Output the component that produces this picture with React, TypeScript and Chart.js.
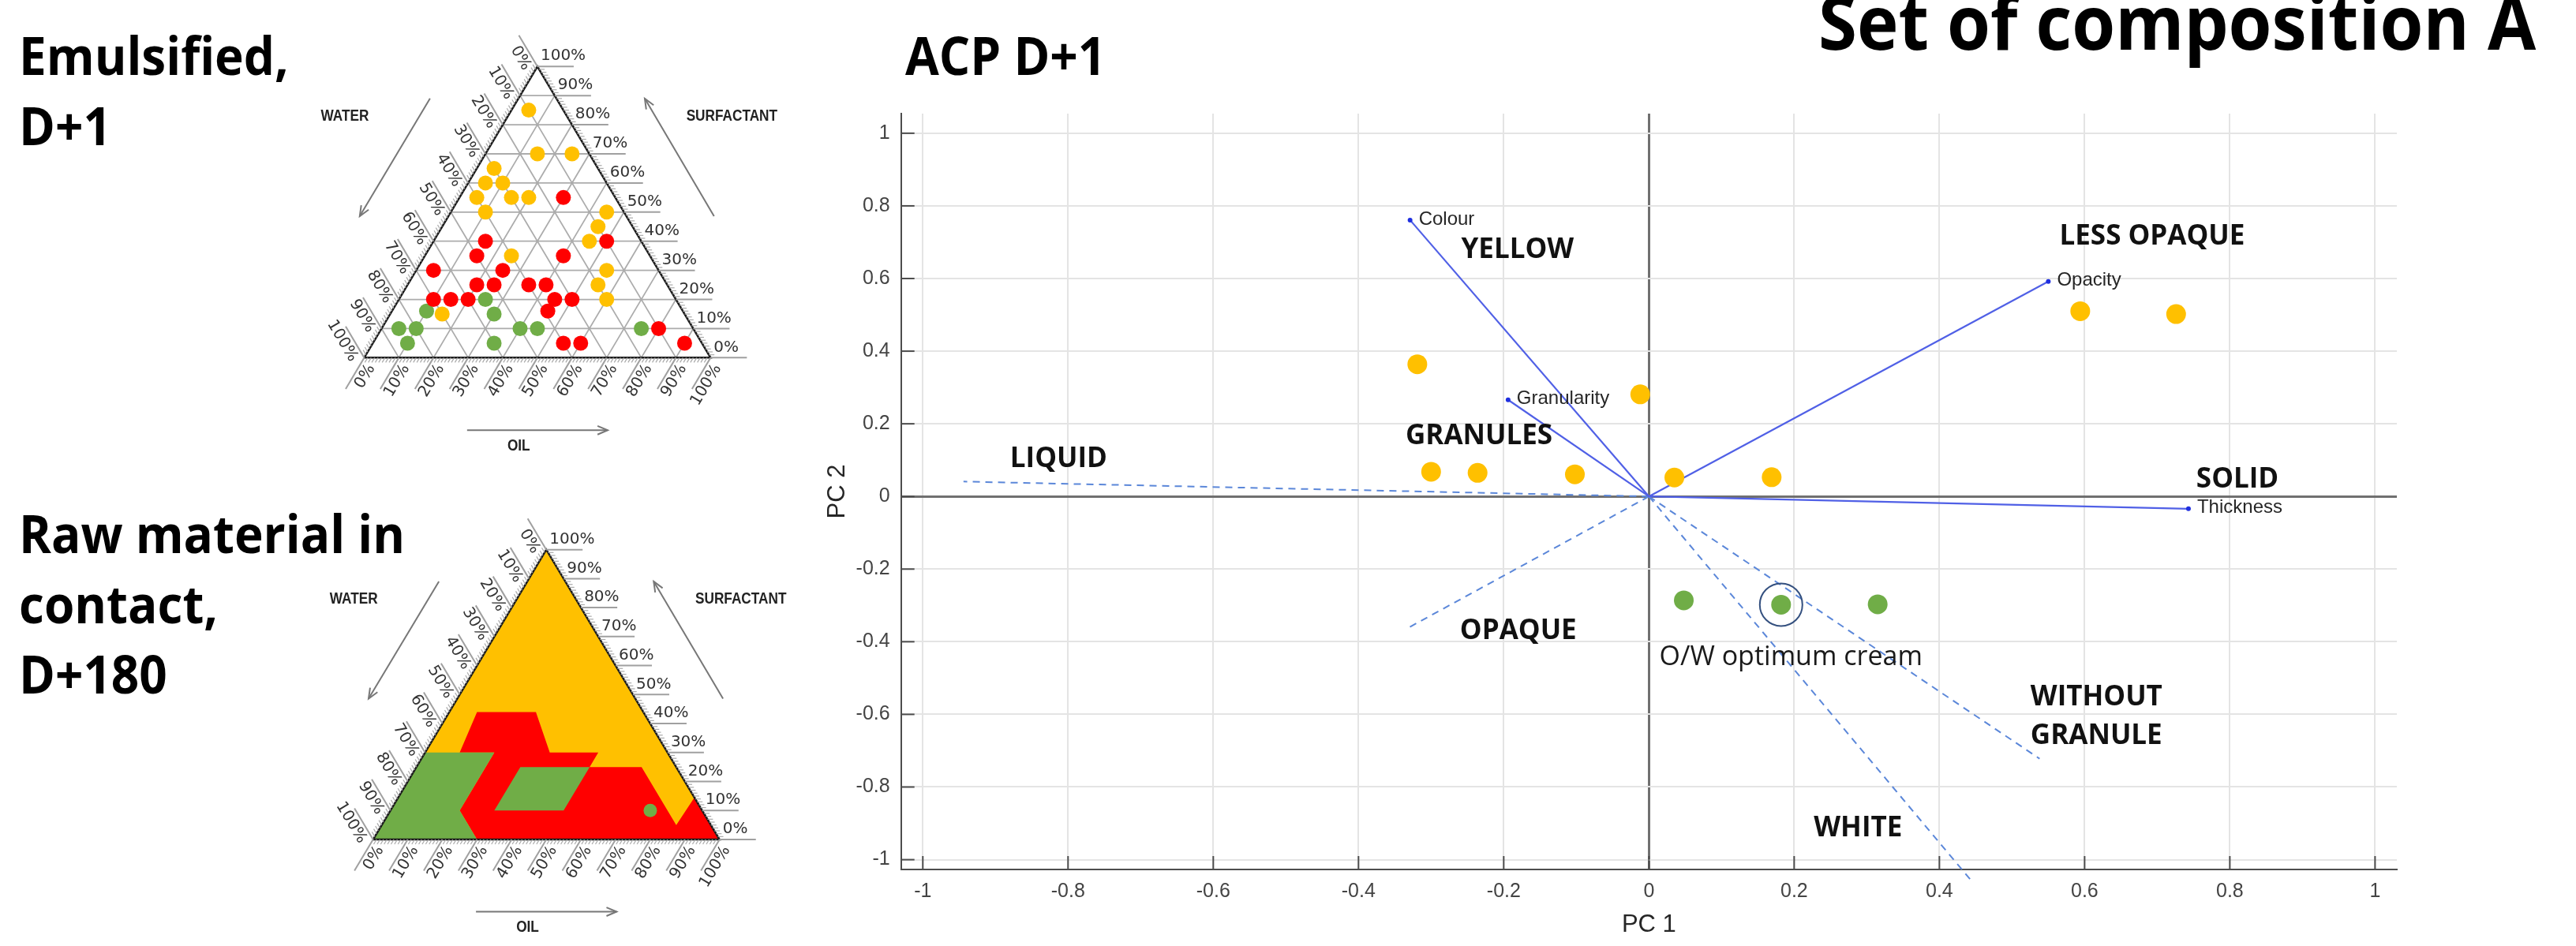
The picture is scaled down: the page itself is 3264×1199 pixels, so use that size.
import React, { useEffect, useRef } from 'react';
import { Chart, registerables } from 'chart.js';

Chart.register(...registerables);

// ================= DATA =================
// Ternary "Emulsified, D+1": each point = [oil %, surfactant %] (water = remainder)
const emulsifiedYellow = [[5, 85], [15, 70], [25, 70], [5, 65], [5, 60], [10, 60], [5, 55], [15, 55], [20, 55], [10, 50], [45, 50], [45, 45], [45, 40], [25, 35], [55, 30], [55, 25], [60, 20], [15, 15]];
const emulsifiedRed = [[30, 55], [15, 40], [50, 40], [15, 35], [40, 35], [5, 30], [25, 30], [20, 25], [25, 25], [35, 25], [40, 25], [10, 20], [15, 20], [20, 20], [45, 20], [50, 20], [45, 16], [80, 10], [55, 5], [60, 5], [90, 5]];
const emulsifiedGreen = [[25, 20], [10, 16], [30, 15], [5, 10], [10, 10], [40, 10], [45, 10], [75, 10], [10, 5], [35, 5]];

// Ternary "Raw material in contact, D+180": zones as [oil %, surfactant %] vertices
const rawYellowZone = [[0, 0], [100, 0], [0, 100]];
const rawRedZone = [[8, 44], [25, 44], [36, 30], [50, 30], [50, 25], [65, 25], [85, 5], [85.5, 14.5], [100, 0], [30, 0], [20, 10], [20, 30], [10, 30]];
const rawGreenZoneLeft = [[0, 0], [0, 30], [20, 30], [20, 10], [30, 0]];
const rawGreenZoneInner = [[30, 25], [50, 25], [50, 10], [30, 10]];
const rawGreenDot = [[75, 10]];

const ternaryTickPercents = [0, 10, 20, 30, 40, 50, 60, 70, 80, 90, 100];
const ternaryGridPercents = [10, 20, 30, 40, 50, 60, 70, 80, 90];

// PCA "ACP D+1"
const yellowPC1 = [-0.319, -0.012, -0.300, -0.236, -0.102, 0.035, 0.169, 0.594, 0.726];
const yellowPC2 = [0.364, 0.281, 0.068, 0.065, 0.061, 0.052, 0.053, 0.510, 0.502];
const greenPC1 = [0.048, 0.182, 0.315];
const greenPC2 = [-0.286, -0.298, -0.297];
const optimumIndex = 1;

const loadingNames = ['Colour', 'Granularity', 'Opacity', 'Thickness'];
const loadingPC1 = [-0.329, -0.194, 0.550, 0.743];
const loadingPC2 = [0.761, 0.266, 0.592, -0.034];

const directionNames = ['LIQUID', 'OPAQUE', 'WITHOUT GRANULE', 'WHITE'];
const directionPC1 = [-0.944, -0.330, 0.538, 0.444];
const directionPC2 = [0.041, -0.360, -0.722, -1.058];

const pcaTickValues = [-1, -0.8, -0.6, -0.4, -0.2, 0, 0.2, 0.4, 0.6, 0.8, 1];

// annotation texts with anchor in PC units
const annotationTexts = ['YELLOW', 'GRANULES', 'LIQUID', 'LESS OPAQUE', 'SOLID', 'OPAQUE', 'O/W optimum cream', 'WITHOUT', 'GRANULE', 'WHITE'];
const annotationPC1 = [-0.181, -0.234, -0.813, 0.693, 0.8105, -0.180, 0.1955, 0.5255, 0.5255, 0.288];
const annotationPC2 = [0.683, 0.170, 0.107, 0.720, 0.052, -0.365, -0.439, -0.549, -0.654, -0.909];

// ================= STYLES =================
const YELLOW = '#FFC000';
const RED = '#FF0000';
const GREEN = '#70AD47';
const TITLE_FONT = '"Open Sans", "Liberation Sans", sans-serif';

function drawTitle(ctx: CanvasRenderingContext2D, text: string, x: number, y: number, size: number, sx = 0.94) {
  ctx.save();
  ctx.fillStyle = '#000';
  ctx.font = `bold ${size}px ${TITLE_FONT}`;
  ctx.textAlign = 'left';
  ctx.textBaseline = 'alphabetic';
  ctx.translate(x, y);
  ctx.scale(sx, 1);
  ctx.fillText(text, 0, 0);
  ctx.restore();
}

// ================= TERNARY =================
interface TernaryLayout {
  top: number; width: number; height: number;
  blX: number; blY: number; baseW: number; triH: number;
  title: string[]; titleBaselines: number[];
}

const tp = (p: number[]) => ({ x: (p[0] + p[1] / 2) / 100, y: p[1] / 100 });
const closedPoly = (poly: number[][]) => [...poly, poly[0]].map(tp);

function gridPoints() {
  const pts: any[] = [];
  for (const v of ternaryGridPercents) {
    const a = tp([0, v]), b = tp([100 - v, v]);
    const c = tp([v, 0]), d = tp([v, 100 - v]);
    const e = tp([100 - v, 0]), f = tp([0, 100 - v]);
    pts.push(a, b, { x: b.x, y: null }, c, d, { x: d.x, y: null }, e, f, { x: f.x, y: null });
  }
  return pts;
}

function dots(list: number[][], color: string, r: number) {
  return {
    data: list.map(tp), showLine: false, pointRadius: r, pointHoverRadius: r,
    pointBackgroundColor: color, pointBorderWidth: 0, backgroundColor: color, borderColor: color, order: 1,
  };
}

function zone(list: number[][], color: string, order: number) {
  return {
    data: closedPoly(list), fill: 'shape', backgroundColor: color, borderColor: 'rgba(0,0,0,0)',
    borderWidth: 0, pointRadius: 0, tension: 0, order,
  };
}

function outline() {
  return {
    data: closedPoly([[0, 0], [100, 0], [0, 100]]), borderColor: '#1a1a1a', borderWidth: 2.5,
    pointRadius: 0, fill: false, tension: 0, order: 5,
  };
}

// decorations in triangle units (x: 0 = water vertex, 1 = oil vertex; y: 0 = base, 1 = apex)
const arrowUnits = [
  [[0.19, 0.89], [-0.013, 0.486]],
  [[1.01, 0.486], [0.81, 0.89]],
  [[0.297, -0.249], [0.703, -0.249]],
];
const axisLabelUnits = [
  { text: 'WATER', x: -0.056, y: 0.829, align: 'center' },
  { text: 'SURFACTANT', x: 0.93, y: 0.829, align: 'left' },
  { text: 'OIL', x: 0.446, y: -0.303, align: 'center' },
];

function ternaryDecor(L: TernaryLayout) {
  return {
    id: 'ternaryDecor',
    afterDatasetsDraw(chart: any) {
      const ctx: CanvasRenderingContext2D = chart.ctx;
      const xs = chart.scales.x, ys = chart.scales.y;
      const px = (x: number, y: number) => [xs.getPixelForValue(x), ys.getPixelForValue(y)];
      const BL = px(0, 0), BR = px(1, 0), TOP = px(0.5, 1);
      const norm = (v: number[]) => { const l = Math.hypot(v[0], v[1]); return [v[0] / l, v[1] / l]; };
      const sides = [
        { d: [1, 0], pos: (v: number) => px(1 - v / 2, v), flip: false },
        { d: norm([BL[0] - TOP[0], BL[1] - TOP[1]]), pos: (v: number) => px(v, 0), flip: true },
        { d: norm([TOP[0] - BR[0], TOP[1] - BR[1]]), pos: (v: number) => px((1 - v) / 2, 1 - v), flip: true },
      ];
      ctx.save();
      for (const side of sides) {
        const d = side.d;
        const n = [d[1], -d[0]];
        for (let k = 0; k <= 100; k++) {
          const P = side.pos(k / 100);
          const major = k % 10 === 0;
          const len = major ? 46 : 7;
          ctx.strokeStyle = major ? '#a0a0a0' : '#aaaaaa';
          ctx.lineWidth = major ? 2 : 1.2;
          ctx.beginPath();
          ctx.moveTo(P[0], P[1]);
          ctx.lineTo(P[0] + len * d[0], P[1] + len * d[1]);
          ctx.stroke();
        }
        ctx.fillStyle = '#333';
        ctx.font = '20px "DejaVu Sans", sans-serif';
        for (const t of ternaryTickPercents) {
          const P = side.pos(t / 100);
          const ax = P[0] + 4 * d[0] + 13 * n[0];
          const ay = P[1] + 4 * d[1] + 13 * n[1];
          ctx.save();
          ctx.translate(ax, ay);
          ctx.rotate(side.flip ? Math.atan2(d[1], d[0]) + Math.PI : 0);
          ctx.textAlign = side.flip ? 'right' : 'left';
          ctx.textBaseline = 'middle';
          ctx.fillText(`${t}%`, 0, 0);
          ctx.restore();
        }
      }
      // arrows
      ctx.strokeStyle = '#777';
      ctx.lineWidth = 2;
      for (const [s, e] of arrowUnits) {
        const A = px(s[0], s[1]), B = px(e[0], e[1]);
        const ang = Math.atan2(B[1] - A[1], B[0] - A[0]);
        ctx.beginPath();
        ctx.moveTo(A[0], A[1]);
        ctx.lineTo(B[0], B[1]);
        ctx.stroke();
        ctx.beginPath();
        ctx.moveTo(B[0] - 14 * Math.cos(ang - 0.4), B[1] - 14 * Math.sin(ang - 0.4));
        ctx.lineTo(B[0], B[1]);
        ctx.lineTo(B[0] - 14 * Math.cos(ang + 0.4), B[1] - 14 * Math.sin(ang + 0.4));
        ctx.stroke();
      }
      ctx.fillStyle = '#222';
      ctx.font = 'bold 21px "Liberation Sans", Arial, sans-serif';
      ctx.textBaseline = 'middle';
      for (const lab of axisLabelUnits) {
        const P = px(lab.x, lab.y);
        ctx.save();
        ctx.translate(P[0], P[1]);
        ctx.scale(0.82, 1);
        ctx.textAlign = lab.align as CanvasTextAlign;
        ctx.fillText(lab.text, 0, 0);
        ctx.restore();
      }
      ctx.restore();
      L.title.forEach((line, i) => drawTitle(ctx, line, 24, L.titleBaselines[i], 66));
    },
  };
}

function ternaryConfig(L: TernaryLayout, datasets: any[]) {
  return {
    type: 'line',
    data: { datasets },
    options: {
      animation: false, responsive: false, maintainAspectRatio: false, events: [],
      layout: { padding: 0 },
      plugins: { legend: { display: false }, tooltip: { enabled: false } },
      scales: {
        x: { type: 'linear', display: false, bounds: 'data', min: -L.blX / L.baseW, max: (L.width - L.blX) / L.baseW },
        y: { type: 'linear', display: false, bounds: 'data', min: (L.blY - L.height) / L.triH, max: L.blY / L.triH },
      },
    },
    plugins: [ternaryDecor(L)],
  };
}

const emulsifiedLayout: TernaryLayout = {
  top: 0, width: 1030, height: 620, blX: 460.5, blY: 457.9, baseW: 447.1, triH: 380.8,
  title: ['Emulsified,', 'D+1'], titleBaselines: [95, 184],
};
const rawLayout: TernaryLayout = {
  top: 620, width: 1030, height: 579, blX: 472, blY: 448.7, baseW: 446.4, triH: 378.5,
  title: ['Raw material in', 'contact,', 'D+180'], titleBaselines: [81, 170, 259],
};

function emulsifiedDatasets() {
  return [
    { data: gridPoints(), borderColor: '#acacac', borderWidth: 1.8, pointRadius: 0, spanGaps: false, fill: false, order: 8 },
    outline(),
    dots(emulsifiedYellow, YELLOW, 9.5),
    dots(emulsifiedRed, RED, 9.5),
    dots(emulsifiedGreen, GREEN, 9.5),
  ];
}

function rawDatasets() {
  return [
    zone(rawYellowZone, YELLOW, 12),
    zone(rawRedZone, RED, 11),
    zone(rawGreenZoneLeft, GREEN, 10),
    zone(rawGreenZoneInner, GREEN, 10),
    outline(),
    dots(rawGreenDot, GREEN, 8.5),
  ];
}

// ================= PCA =================
const pcaDecor = {
  id: 'pcaDecor',
  beforeDatasetsDraw(chart: any) {
    const { ctx, chartArea, scales: { x, y } } = chart;
    ctx.save();
    ctx.strokeStyle = '#4d4d4d';
    ctx.lineWidth = 2;
    for (const v of pcaTickValues) {
      const px = x.getPixelForValue(v);
      ctx.beginPath(); ctx.moveTo(px, chartArea.bottom); ctx.lineTo(px, chartArea.bottom - 17); ctx.stroke();
      const py = y.getPixelForValue(v);
      ctx.beginPath(); ctx.moveTo(chartArea.left, py); ctx.lineTo(chartArea.left + 17, py); ctx.stroke();
    }
    ctx.restore();
  },
  afterDatasetsDraw(chart: any) {
    const { ctx, scales: { x, y } } = chart;
    ctx.save();
    ctx.fillStyle = '#262626';
    ctx.font = '24px "Liberation Sans", Arial, sans-serif';
    ctx.textAlign = 'left';
    ctx.textBaseline = 'middle';
    loadingNames.forEach((name, i) => {
      ctx.fillText(name, x.getPixelForValue(loadingPC1[i]) + 11, y.getPixelForValue(loadingPC2[i]) - 1);
    });
    annotationTexts.forEach((text, i) => {
      const regular = text === 'O/W optimum cream';
      const size = regular ? 34 : 35;
      ctx.font = `${regular ? '' : 'bold '}${size}px ${TITLE_FONT}`;
      ctx.fillStyle = regular ? '#1a1a1a' : '#111';
      ctx.textAlign = (text === 'WITHOUT' || text === 'GRANULE') ? 'left' : 'center';
      ctx.textBaseline = 'alphabetic';
      ctx.fillText(text, x.getPixelForValue(annotationPC1[i]), y.getPixelForValue(annotationPC2[i]) + size * 0.357);
    });
    ctx.restore();
  },
  afterDraw(chart: any) {
    const ctx = chart.ctx;
    drawTitle(ctx, 'ACP D+1', 107, 95, 66);
    drawTitle(ctx, 'Set of composition A', 1264, 63, 95, 0.935);
  },
};

function pcaConfig() {
  const tickFont = { family: '"Liberation Sans", Arial, sans-serif', size: 25 };
  const gridColor = (c: any) => (c.tick && Math.abs(c.tick.value) < 1e-9 ? '#707070' : '#e4e4e4');
  const gridWidth = (c: any) => (c.tick && Math.abs(c.tick.value) < 1e-9 ? 3 : 2);
  const fmt = (v: any) => String(Math.round(Number(v) * 10) / 10);
  const setTicks = (s: any) => { s.ticks = pcaTickValues.map((v) => ({ value: v })); };
  const datasets: any[] = [
    {
      label: 'yellow', data: yellowPC1.map((v, i) => ({ x: v, y: yellowPC2[i] })),
      pointRadius: 12.5, pointBackgroundColor: YELLOW, pointBorderWidth: 0, order: 2,
    },
    {
      label: 'green', data: greenPC1.map((v, i) => ({ x: v, y: greenPC2[i] })),
      pointRadius: 12.5, pointBackgroundColor: GREEN, pointBorderWidth: 0, order: 2,
    },
    {
      label: 'optimum', data: [{ x: greenPC1[optimumIndex], y: greenPC2[optimumIndex] }],
      pointRadius: 27, pointBackgroundColor: 'rgba(0,0,0,0)', pointBorderColor: '#34507f', pointBorderWidth: 2, order: 1,
    },
    ...loadingNames.map((name, i) => ({
      label: name, data: [{ x: 0, y: 0 }, { x: loadingPC1[i], y: loadingPC2[i] }], showLine: true,
      borderColor: '#5060e6', borderWidth: 2.2, pointRadius: [0, 3], pointBackgroundColor: '#1f2fe0',
      pointBorderWidth: 0, order: 3,
    })),
    ...directionNames.map((name, i) => ({
      label: name, data: [{ x: 0, y: 0 }, { x: directionPC1[i], y: directionPC2[i] }], showLine: true,
      borderColor: '#5b87d9', borderWidth: 2, borderDash: [9, 7], pointRadius: 0, clip: false, order: 4,
    })),
  ];
  return {
    type: 'scatter',
    data: { datasets },
    options: {
      animation: false, responsive: false, maintainAspectRatio: false, events: [],
      layout: { padding: { top: 144, right: 227, left: 0, bottom: 0 } },
      plugins: { legend: { display: false }, tooltip: { enabled: false } },
      scales: {
        x: {
          type: 'linear', bounds: 'data', min: -1.03, max: 1.03,
          afterBuildTicks: setTicks,
          afterFit: (s: any) => { s.height = 97; },
          ticks: { callback: fmt, font: tickFont, color: '#444', padding: 13, maxRotation: 0, autoSkip: false },
          grid: { drawTicks: false, color: gridColor, lineWidth: gridWidth },
          border: { display: true, color: '#4d4d4d', width: 2 },
          title: { display: true, text: 'PC 1', font: { family: '"Liberation Sans", Arial, sans-serif', size: 31 }, color: '#262626', padding: { top: 0, bottom: 8 } },
        },
        y: {
          type: 'linear', bounds: 'data', min: -1.027, max: 1.054,
          afterBuildTicks: setTicks,
          afterFit: (s: any) => { s.width = 101.7; },
          ticks: { callback: fmt, font: tickFont, color: '#444', padding: 14, autoSkip: false },
          grid: { drawTicks: false, color: gridColor, lineWidth: gridWidth },
          border: { display: true, color: '#4d4d4d', width: 2 },
          title: { display: true, text: 'PC 2', font: { family: '"Liberation Sans", Arial, sans-serif', size: 31 }, color: '#262626', padding: { top: 3, bottom: 0 } },
        },
      },
    },
    plugins: [pcaDecor],
  };
}

// ================= COMPONENTS =================
function ChartCanvas(props: { left: number; top: number; width: number; height: number; build: () => any }) {
  const ref = useRef<HTMLCanvasElement>(null);
  useEffect(() => {
    const chart = new Chart(ref.current as HTMLCanvasElement, props.build());
    return () => chart.destroy();
  }, []);
  return (
    <canvas
      ref={ref}
      width={props.width}
      height={props.height}
      style={{ position: 'absolute', left: props.left, top: props.top, width: props.width, height: props.height }}
    />
  );
}

export default function App() {
  return (
    <div style={{ position: 'absolute', left: 0, top: 0, width: 3264, height: 1199, background: '#fff', overflow: 'hidden' }}>
      <ChartCanvas left={0} top={emulsifiedLayout.top} width={emulsifiedLayout.width} height={emulsifiedLayout.height}
        build={() => ternaryConfig(emulsifiedLayout, emulsifiedDatasets())} />
      <ChartCanvas left={0} top={rawLayout.top} width={rawLayout.width} height={rawLayout.height}
        build={() => ternaryConfig(rawLayout, rawDatasets())} />
      <ChartCanvas left={1040} top={0} width={2224} height={1199} build={pcaConfig} />
    </div>
  );
}
